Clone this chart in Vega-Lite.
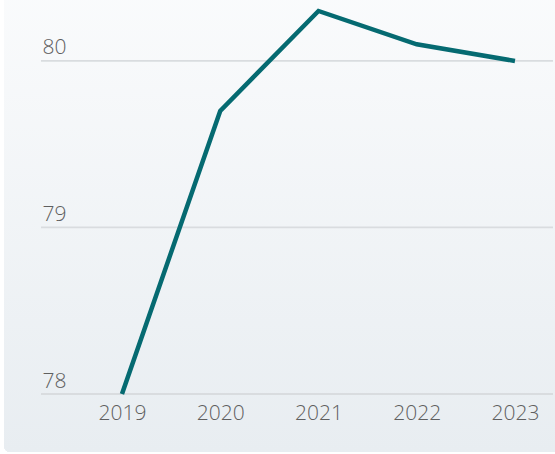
{
  "$schema": "https://vega.github.io/schema/vega-lite/v6.json",
  "autosize": "none",
  "padding": {"left": 41, "top": 0, "right": 2, "bottom": 60},
  "width": 512,
  "height": 394,
  "background": "white",
  "config": {
    "view": {"stroke": null},
    "font": "Open Sans",
    "axis": {"labelFont": "Open Sans", "labelColor": "#5f5f5f", "labelFontSize": 21, "labelFontWeight": 300}
  },
  "datasets": {
    "series": [
      {"year": 2019, "value": 78.0},
      {"year": 2020, "value": 79.7},
      {"year": 2021, "value": 80.3},
      {"year": 2022, "value": 80.1},
      {"year": 2023, "value": 80.0}
    ],
    "grid": [
      {"level": 78},
      {"level": 79},
      {"level": 80}
    ]
  },
  "data": {"name": "series"},
  "layer": [
    {
      "mark": {
        "type": "rect",
        "clip": false,
        "cornerRadius": 6,
        "color": {
          "x1": 0, "y1": 0, "x2": 0, "y2": 1,
          "gradient": "linear",
          "stops": [
            {"offset": 0, "color": "#fbfcfd"},
            {"offset": 1, "color": "#e8edf1"}
          ]
        }
      },
      "encoding": {
        "x": {"datum": 2017.8, "type": "quantitative"},
        "x2": {"datum": 2023.7},
        "y": {"datum": 77.652, "type": "quantitative"},
        "y2": {"datum": 80.6}
      }
    },
    {
      "data": {"name": "grid"},
      "mark": {"type": "rule", "color": "#d9dcdf", "strokeWidth": 1.8},
      "encoding": {
        "x": {"datum": 2018.176, "type": "quantitative"},
        "x2": {"datum": 2023.387},
        "y": {"field": "level", "type": "quantitative"}
      }
    },
    {
      "mark": {"type": "line", "color": "#056a71", "strokeWidth": 4.5, "clip": false, "strokeJoin": "miter"},
      "encoding": {
        "x": {
          "field": "year",
          "type": "quantitative",
          "scale": {"domain": [2018.176, 2023.387], "nice": false, "zero": false},
          "axis": {
            "title": null,
            "values": [2019, 2020, 2021, 2022, 2023],
            "format": "d",
            "grid": false,
            "domain": false,
            "ticks": false,
            "tickSize": 0,
            "labelPadding": 8,
            "labelFlush": false,
            "labelOverlap": false,
            "zindex": 1
          }
        },
        "y": {
          "field": "value",
          "type": "quantitative",
          "scale": {"domain": [78, 80.366], "nice": false, "zero": false},
          "axis": {
            "title": null,
            "values": [78, 79, 80],
            "format": "d",
            "grid": false,
            "domain": false,
            "ticks": false,
            "tickSize": 0,
            "labelAlign": "left",
            "labelBaseline": "alphabetic",
            "labelPadding": -1,
            "labelOffset": -7,
            "labelFlush": false,
            "labelOverlap": false,
            "zindex": 1
          }
        }
      }
    }
  ]
}
